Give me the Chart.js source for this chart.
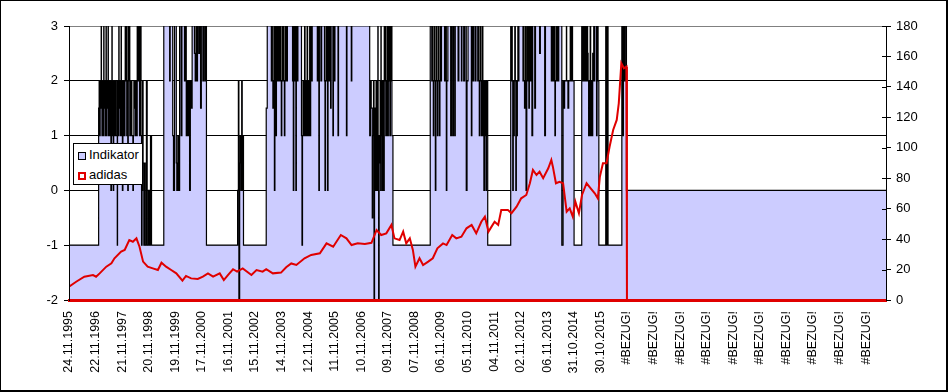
<!DOCTYPE html>
<html>
<head>
<meta charset="utf-8">
<script src="https://cdn.jsdelivr.net/npm/chart.js@4.4.1/dist/chart.umd.min.js"></script>
<style>
  html, body { margin: 0; padding: 0; background: #fff; }
  #wrap { position: relative; width: 948px; height: 392px; }
  #frame {
    position: absolute; left: 0; top: 0; width: 948px; height: 392px;
    box-sizing: border-box; border: 1px solid #000;
    border-right-width: 2px; border-bottom-width: 2px; pointer-events: none;
  }
  #legend {
    position: absolute; left: 73px; top: 143px; width: 70px; height: 42px;
    box-sizing: border-box; border: 1px solid #000; background: #fff;
    font: 13px "Liberation Sans", Arial, sans-serif; color: #000;
  }
  #legend .row { position: absolute; left: 4px; height: 16px; line-height: 16px; white-space: nowrap; }
  #legend .sw { display: inline-block; width: 8px; height: 8px; box-sizing: border-box; vertical-align: -1px; margin-right: 3px; }
</style>
</head>
<body>
<div id="wrap">
  <canvas id="chart" width="948" height="392"></canvas>
  <div id="legend">
    <div class="row" style="top:3px"><span class="sw" style="background:#ccccff;border:1px solid #000"></span>Indikator</div>
    <div class="row" style="top:23px"><span class="sw" style="background:#fff;border:2px solid #e00000"></span>adidas</div>
  </div>
  <div id="frame"></div>
</div>
<script>
// x values are weeks since 24.11.1995, one axis label every 52 weeks
const tickLabels = [
  "24.11.1995", "22.11.1996", "21.11.1997", "20.11.1998", "19.11.1999",
  "17.11.2000", "16.11.2001", "15.11.2002", "14.11.2003", "12.11.2004",
  "11.11.2005", "10.11.2006", "09.11.2007", "07.11.2008", "06.11.2009",
  "05.11.2010", "04.11.2011", "02.11.2012", "06.11.2013", "31.10.2014",
  "30.10.2015", "#BEZUG!", "#BEZUG!", "#BEZUG!", "#BEZUG!", "#BEZUG!",
  "#BEZUG!", "#BEZUG!", "#BEZUG!", "#BEZUG!", "#BEZUG!"
];
const weeksPerLabel = 52;
const lastWeek = 1599;

// Indikator: [week, new level] - level holds until the next entry
const indikatorSteps = [
  [0, -1],
  // 1997 - 1998
  [58, 1.5], [59, 2], [60, 1], [61, 2], [62, 1.5], [63, 3], [63.5, 2], [64.5, 1], [65.5, 2], [66.5, 1],
  [67.5, 2], [68, 3], [68.5, 1.5], [69.5, 2], [70.5, 1], [71.5, 2], [72.5, 3], [73, 1], [74, 2], [75, 1.5],
  [76, 2], [76.5, 3], [77, 1], [78, 2], [79, 1], [80, 2], [81, 1.5], [82, 0], [83, 2], [84, 3], [84.5, 1],
  [85.5, 2], [86.5, 0], [87.5, 2], [88.5, 1], [89.5, 2], [90.5, 1], [91.5, 2], [92.5, 1], [94.5, -1],
  [95, 2], [96, 1], [97, 2], [97.5, 3], [98, 1.5], [99, 2], [100, 1], [101, 2], [102, 3], [102.5, 1],
  [103.5, 2], [104.5, 0], [105.5, 2], [106.5, 1], [107.5, 2], [108.5, 1], [109.5, 2], [110, 3], [111, 2],
  [112, 3], [113, 1], [114, 2], [115, 0], [116, 3], [117, 2], [118, 3], [119, 1], [120, 2], [121, 1],
  [122, 2], [123, 1], [125, 0], [126, 1], [127, 2], [128, 1.5], [129, 2], [130, 1], [131, 2], [132, 1],
  [133.5, 3], [134, 2], [135, 3], [136, 2], [137, 3], [138, 1], [139, 3], [140, 2], [140.5, 3], [141, 1],
  [142, -1], [143, 0], [144, 2], [145, 0.5], [146.5, -1],
  [148, 0.5], [149, -1], [151.5, 2], [153, -1], [155.5, 0], [157.5, -1], [159.5, 1], [161.5, -1],
  // 1999 - 2000
  [185.5, 3], [197, 2], [198, 3], [203, 1], [204.5, 0], [206.5, 3], [210, 0.5], [211, 0], [213, 1],
  [215, 0], [216.5, 3], [219.5, 1], [221, 3], [226, 2], [227.5, 3], [229.5, 1], [230.5, 2], [232.5, 1],
  [234, 2], [236, 0], [237.5, 2], [239.5, 1.5], [241, 3], [245.5, 2.5], [247, 2], [248.5, 3], [250, 2],
  [251.5, 3], [254, 2.5], [255.5, 3], [257.5, 1.5], [259, 3], [262, 2], [263.5, 3], [266, 2], [267.5, 3],
  [269, -1],
  // 2001
  [330, 0], [331.5, 2], [332.5, -2], [334, 0.5], [335, 1], [336.5, 0], [338, 2], [339, 0], [340.5, 1],
  [341.5, -1],
  // 2003 - 2006
  [386, 1.5], [388, 3],
  [396, 2], [397, 3], [398, 2], [399, 1.5], [400, 2], [401, 3], [402, 0], [403, 2], [404, 3], [405, 1],
  [406, 2], [407, 3], [408, 2], [409, 3], [410, 2], [411, 3],
  [412.5, 2], [413.5, 3], [414.5, 2], [415.5, 1], [416.5, 2], [417.5, 3], [418.5, 2], [419.5, 3],
  [420.5, 2], [421.5, 1], [422.5, 2], [423.5, 3], [424.5, 2], [425.5, 3], [426.5, 2], [427.5, 3],
  [437.5, 2], [438.5, 3], [439, 0], [440, 2], [441, 3], [442, 2], [443, 3], [444, 0], [445, 2], [446, 3],
  [447, 2], [448, 3],
  [455, 1], [456, -1], [457, 1], [458, 2], [459, 1], [460, 2], [461, 3], [462, 1], [463, 2], [464, 1],
  [465, 2], [466, 3], [467, 1], [468, 2], [469, 1], [470, 2], [471, 3], [472, 1], [473, 2], [474, 3],
  [475, 2], [476, 3],
  [486, 2], [487, 3], [489, 0], [490, 3], [493, 2], [494.5, 3],
  [500, 2], [501, 0], [502, 2], [503, 3], [504, 2], [505, 3], [506, 0], [507, 2], [508, 3], [509, 2],
  [510, 3], [511, 2], [512, 1.5], [513, 3],
  [516.5, 1], [517.5, 3], [519.5, 2], [520.5, 3], [526.5, 1], [527.5, 3], [543, 1], [544, 3],
  [552.5, 2], [553.5, 3],
  [588.5, 1], [590, 2], [591.5, 1.5], [593.5, -0.5], [594.5, 1], [596, 2], [597, -2], [598, 0.5],
  [599, 1.5], [600, 0], [601, 2], [602, 1], [603, 0], [604, 2], [604.5, 3], [605, 1], [606, -2], [607, 1],
  [608, 0.5], [609, 2], [610, 0], [610.5, 3], [611, 1], [612, 2], [613, 0], [614, 2], [615, 1], [616, 0],
  [617, 3], [618, 2], [619, 3], [620, 1], [621, 2], [622, 1], [623, 3], [624, 1], [625, 3], [626, 2],
  [627, 3], [628, 1], [629, 3], [630, 2], [631, 3], [632, 1], [634, -1],
  // 2009 - 2010
  [707, 3], [710, 2], [711, 3], [712, 2], [713, 1], [714, 2], [715, 3], [716, 2], [717, 0], [718, 2],
  [719, 3], [720, 2], [721, 1], [722, 2], [723, 3], [724, 2], [725, 1], [726, 2], [727, 3], [728, 2],
  [729, 3],
  [735, 2], [736.5, 3], [738.5, 0], [739.5, 2], [741.5, 3], [747, 1], [748.5, 3], [751, 1], [752.5, 3],
  [755, 1], [756, 3], [761.5, 2], [763, 3], [768, 2], [769, 3], [772.5, 2], [774.5, 3], [777.5, 0],
  [779, 2], [781, 3], [787.5, 1], [788.5, 3], [790.5, 2], [792, 3], [795, 2], [796.5, 3],
  [800, 2], [801, 3], [802, 2], [803, 1], [804, 2], [805, 3], [806, 2], [807, 1], [808, 2], [809, 3],
  [810, 1], [811, 2], [812, 0], [813, 2], [814, 1], [815, 2], [816, 0], [817, 1], [818, 2], [819.5, -1],
  // 2012 - 2014
  [864.5, 3], [865.5, 2], [866.5, 3], [867.5, 2], [868.5, 0], [869.5, 2], [870.5, 1], [871.5, 2],
  [872.5, 3], [873.5, 2], [874.5, 0], [875.5, 2], [876.5, 1], [877.5, 2], [878.5, 3], [879.5, 2], [880.5, 3],
  [888.5, 2], [889.5, 3], [890.5, 2], [891.5, 1.5], [892.5, 2], [893.5, 3], [894.5, 0], [896, 2], [897, 3],
  [898, 2], [899, 3], [900, 1.5], [901, 2], [902, 3], [903, 2], [904, 3], [906, 1], [907.5, 3],
  [911.5, 1.5], [913, 3], [921, 2.5], [922.5, 3], [931, 1], [932.5, 3],
  [944, 2], [945, 3], [946, 2], [947, 3], [948, 2], [949, 3], [950, 2], [951, 1], [952, 2], [953, 3],
  [954, 2], [955, 3], [956, 2], [957, 3], [958, 2], [958.5, 3],
  [964.5, -1], [967, 2], [969, 1.5], [970, 2], [973.5, 3], [974, 2], [976.5, 1.5], [978, 2], [981, 3],
  [981.5, 2], [983, 3], [984, 2], [985, 3], [985.5, 2], [988.5, -1],
  // 2015
  [1003.5, 3], [1005.5, 2], [1006.5, 3], [1008, 2], [1009, 3], [1010, 2], [1011, 3], [1012, 2.5],
  [1013, 2], [1014, 3], [1015, 2.5], [1016, 2], [1017, 1], [1018, 2], [1019, 1], [1020, 3], [1021, 2],
  [1022, 1], [1023, 2], [1024, 1], [1025, 2.5], [1026, 2], [1027, 3], [1028, 2], [1029, 3],
  [1032.5, 1], [1033.5, 3], [1035.5, 2], [1037, -1],
  [1050.5, 3], [1052, -1], [1053, 3], [1055, -1],
  [1082, 3], [1084, 1], [1085, 3], [1086.5, 2], [1088.5, 3], [1091, 0],
  [1599, 0]
];

// adidas share price (right axis): [week, price]
const adidasPoints = [
  [0, 8.7], [14, 12], [30, 15.3], [47, 16.4], [53, 15.3], [60, 17.5], [73, 21.9], [83, 24.1],
  [89, 27.4], [102, 31.8], [109, 32.9], [118, 39.4], [125, 38.3], [132, 40.5], [138, 35], [145, 25.2],
  [154, 21.9], [164, 20.8], [174, 19.7], [181, 24.5], [190, 21.9], [200, 19.7], [210, 17.5], [222, 12.7],
  [229, 15.8], [239, 14.2], [252, 13.8], [262, 15.3], [272, 17.5], [282, 15.3], [295, 17.5], [303, 13.1],
  [311, 16.4], [321, 20.2], [329, 18.6], [340, 20.8], [357, 16.4], [367, 19.7], [379, 18.6], [386, 20.2],
  [399, 17.5], [415, 18], [425, 21.5], [435, 24], [445, 23], [461, 27.4], [474, 29.6], [491, 30.7],
  [504, 37.2], [517, 35], [532, 42.7], [543, 40.5], [553, 36.1], [565, 37.2], [579, 36.8], [592, 37.6],
  [602, 46], [611, 42.7], [621, 43.8], [631, 49.3], [637, 40.5], [647, 39.4], [654, 44.9], [660, 37.2],
  [667, 40.5], [673, 32.9], [678, 21.9], [686, 27.4], [693, 23], [703, 25.2], [712, 27.4], [721, 34],
  [732, 37.2], [739, 36.1], [750, 42.7], [758, 40.5], [768, 41.6], [778, 47.1], [788, 49.3], [797, 43.8],
  [807, 51.4], [814, 54.7], [821, 44.9], [827, 48.2], [833, 51.4], [840, 49.3], [846, 59.1], [859, 59.1],
  [866, 57], [876, 61.3], [885, 66.8], [895, 69], [902, 76.7], [908, 85.4], [915, 82.1], [921, 84.3],
  [928, 80], [938, 86.5], [944, 92], [947, 87.6], [953, 76.7], [960, 77.7], [967, 76.7], [974, 58],
  [980, 60.2], [986, 54.7], [991, 64.6], [998, 57], [1004, 69], [1013, 76.7], [1021, 73.4], [1029, 70.1],
  [1035, 66.8], [1039, 81], [1045, 89.8], [1052, 89.8], [1058, 100.7], [1065, 111.7], [1072, 118.3],
  [1076, 129.2], [1081, 155.5], [1086, 152.2], [1091, 153.3], [1092, 0], [1599, 0]
];

const toXY = (pairs) => pairs.map(([x, y]) => ({ x, y }));
const tickFont = { family: "'Liberation Sans', Arial, sans-serif", size: 13 };

// short tick marks pointing into the plot on the right axis
const rightInnerTicks = {
  id: "rightInnerTicks",
  afterDatasetsDraw(chart) {
    const scale = chart.scales.y1;
    const c = chart.ctx;
    c.save();
    c.strokeStyle = "#000";
    c.lineWidth = 1;
    scale.ticks.forEach((t) => {
      const y = Math.round(scale.getPixelForValue(t.value)) + 0.5;
      c.beginPath();
      c.moveTo(scale.left - 4, y);
      c.lineTo(scale.left, y);
      c.stroke();
    });
    c.restore();
  }
};

new Chart(document.getElementById("chart"), {
  type: "line",
  data: {
    datasets: [
      {
        label: "adidas",
        data: toXY(adidasPoints),
        yAxisID: "y1",
        borderColor: "#e00000",
        borderWidth: 2,
        pointRadius: 0,
        fill: false,
        order: 0
      },
      {
        label: "Indikator",
        data: toXY(indikatorSteps),
        yAxisID: "y",
        stepped: true,
        borderColor: "#000",
        borderWidth: 1.2,
        backgroundColor: "#ccccff",
        fill: "start",
        pointRadius: 0,
        order: 1
      }
    ]
  },
  options: {
    responsive: false,
    animation: false,
    layout: { padding: { top: 26, left: 0, right: 0, bottom: 0 } },
    plugins: { legend: { display: false }, tooltip: { enabled: false } },
    scales: {
      x: {
        type: "linear",
        min: 0,
        max: lastWeek,
        afterBuildTicks: (s) => {
          s.ticks = tickLabels.map((_, i) => ({ value: i * weeksPerLabel }));
        },
        afterFit: (s) => { s.height = 92; },
        grid: { display: false, drawTicks: false },
        border: { display: true, color: "#e00000", width: 3, z: 1 },
        ticks: {
          autoSkip: false,
          minRotation: 90,
          maxRotation: 90,
          padding: 11,
          color: "#000",
          font: { family: tickFont.family, size: 12.5 },
          callback: (v) => tickLabels[Math.round(v / weeksPerLabel)]
        }
      },
      y: {
        position: "left",
        min: -2,
        max: 3,
        afterFit: (s) => { s.width = 69; },
        ticks: { stepSize: 1, color: "#000", font: tickFont, padding: 6 },
        grid: {
          color: (ctx) => (ctx.tick && ctx.tick.value === 3 ? "#808080" : "#000"),
          tickColor: "#000",
          tickLength: 5
        },
        border: { color: "#000", z: 1 }
      },
      y1: {
        position: "right",
        min: 0,
        max: 180,
        afterFit: (s) => { s.width = 62; },
        ticks: { stepSize: 20, color: "#000", font: tickFont, padding: 5 },
        grid: { drawOnChartArea: false, tickColor: "#000", tickLength: 5 },
        border: { color: "#000", z: 1 }
      }
    }
  },
  plugins: [rightInnerTicks]
});
</script>
</body>
</html>
